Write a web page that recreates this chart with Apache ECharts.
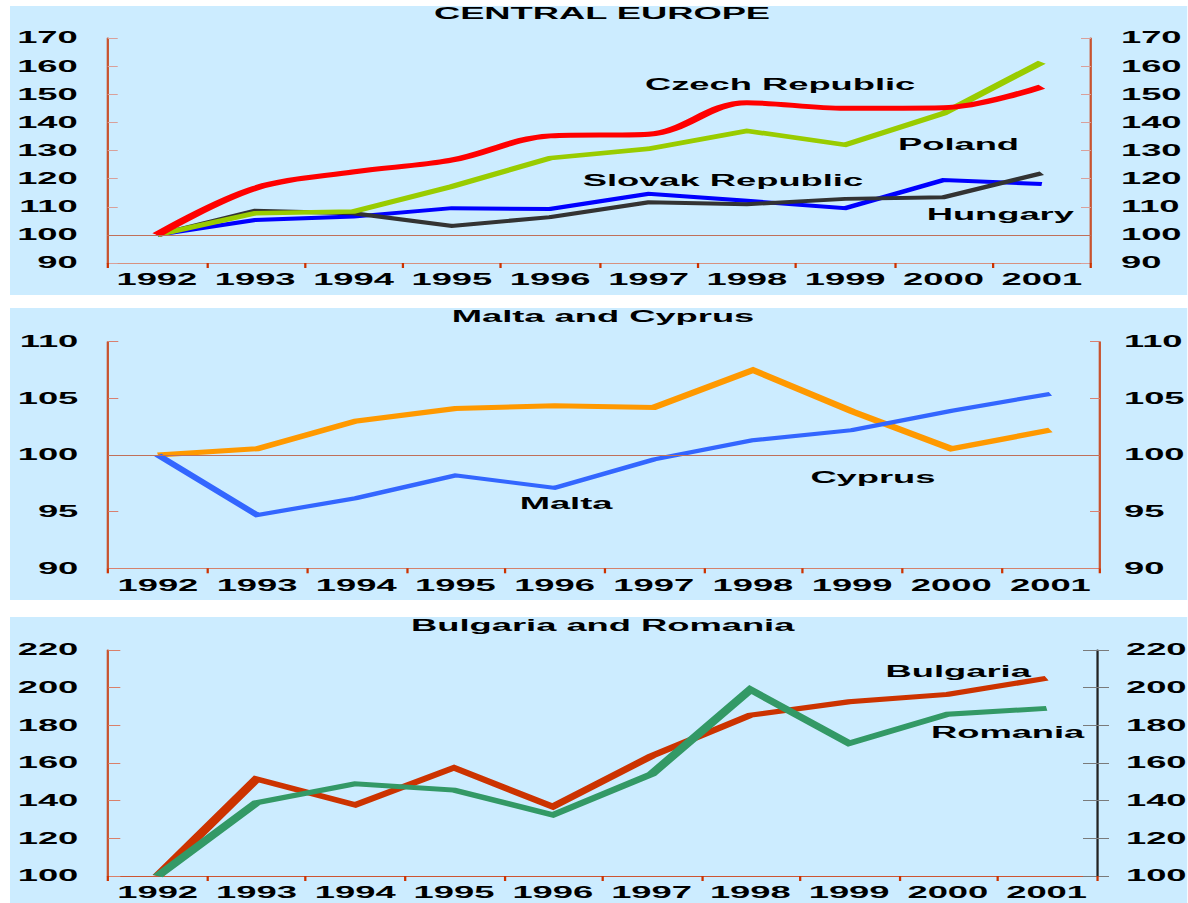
<!DOCTYPE html>
<html>
<head>
<meta charset="utf-8">
<title>Central Europe, Malta and Cyprus, Bulgaria and Romania (1992 = 100)</title>
<script src="https://cdn.jsdelivr.net/npm/echarts@6/dist/echarts.min.js"></script>
<style>
  html, body { margin: 0; padding: 0; background: #ffffff; overflow: hidden; }
  #chart { position: absolute; left: 0; top: 0; height: 903px; transform-origin: 0 0; }
</style>
</head>
<body>
<div id="chart"></div>
<script>
// ---- data (index, 1992 = 100) ----
const years = ['1992', '1993', '1994', '1995', '1996', '1997', '1998', '1999', '2000', '2001'];

const czech   = [100, 116.6, 122.4, 126.6, 135.2, 135.8, 147.0, 145.0, 145.2, 152.7];
const poland  = [100, 107.7, 108.3, 117.2, 127.3, 130.6, 137.0, 132.0, 143.2, 161.4];
const slovak  = [100, 105.3, 106.5, 109.5, 109.2, 114.6, 112.1, 109.5, 119.5, 118.1];
const hungary = [100, 108.6, 107.7, 103.2, 106.3, 111.6, 110.9, 112.8, 113.4, 121.9];

const malta   = [100, 94.7, 96.2, 98.2, 97.1, 99.6, 101.3, 102.2, 103.9, 105.4];
const cyprus  = [100, 100.55, 103.0, 104.1, 104.35, 104.2, 107.5, 103.85, 100.55, 102.2];

const bulgaria = [100, 151.5, 137.7, 157.5, 136.8, 163.7, 185.4, 192.5, 196.4, 205.0];
const romania  = [100, 138.9, 149.0, 145.6, 132.4, 154.1, 199.0, 170.4, 185.9, 189.0];

// value-axis ranges per panel: [min, max, step]
const rangeCentral = [90, 170, 10];
const rangeMalta   = [90, 110, 5];
const rangeBalkan  = [100, 220, 20];

// ---- layout ----
// The drawing is laid out on a narrow surface and widened horizontally,
// which gives the broad, extended lettering of the printed chart.
const SX = 2.27;
const PAGE_W = 1188;
const X = v => v / SX;

const el = document.getElementById('chart');
el.style.width = X(PAGE_W) + 'px';
el.style.transform = 'scaleX(' + SX + ')';

const FONT = '"Liberation Sans", Arial, Helvetica, sans-serif';
const BG = '#CCECFF';
const AXIS_BROWN = '#C8532F';
const TICK_RED = '#CC3300';
const TICK_PALE = '#D9A09A';

const labelStyle = { color: '#000', fontFamily: FONT, fontWeight: 'bold', fontSize: 16 };

function gridBox(left, right, top, bottom) {
  return {
    left: X(left), width: X(right - left), top: top, height: bottom - top,
    containLabel: false, outerBoundsMode: 'none', show: false
  };
}

function catAxis(gridIndex, lineColor) {
  return {
    type: 'category', gridIndex: gridIndex, data: years, boundaryGap: true,
    axisLine: { show: true, onZero: false, lineStyle: { color: lineColor, width: 1 } },
    axisTick: { show: true, length: 5, lineStyle: { color: TICK_RED, width: 1 } },
    axisLabel: Object.assign({ margin: 9, interval: 0 }, labelStyle),
    splitLine: { show: false }
  };
}

function valAxis(gridIndex, range, position, o) {
  o = o || {};
  return {
    type: 'value', gridIndex: gridIndex, position: position,
    min: range[0], max: range[1], interval: range[2],
    axisLine: { show: o.line !== false, onZero: false, lineStyle: { color: o.lineColor || AXIS_BROWN, width: 1 } },
    axisTick: { show: true, inside: o.inside !== false, length: o.tickLen || X(10),
                lineStyle: { color: o.tickColor || TICK_PALE, width: 1 } },
    axisLabel: Object.assign({ show: o.labels !== false, margin: X(o.margin || 30) }, labelStyle),
    splitLine: { show: false }
  };
}

function lineSeries(name, data, color, width, xi, yi, extra) {
  return Object.assign({
    name: name, type: 'line', data: data, xAxisIndex: xi, yAxisIndex: yi,
    showSymbol: false, symbol: 'none', silent: true, animation: false,
    lineStyle: { color: color, width: width, cap: 'butt', join: 'miter' },
    itemStyle: { color: color }
  }, extra || {});
}

function baseLine(value, color) {
  return {
    silent: true, symbol: ['none', 'none'], animation: false,
    label: { show: false },
    lineStyle: { color: color, width: 1, type: 'solid' },
    data: [{ yAxis: value }]
  };
}

function txt(text, x, y, align, size) {
  return {
    type: 'text', x: X(x), y: y, z: 50, silent: true,
    style: {
      text: text, fill: '#000',
      font: 'bold ' + (size || 16) + 'px ' + FONT,
      textAlign: align || 'left', align: align || 'left',
      textVerticalAlign: 'middle', verticalAlign: 'middle'
    }
  };
}

function panel(y, h) {
  return { type: 'rect', z: -10, silent: true,
           shape: { x: X(10), y: y, width: X(1178), height: h },
           style: { fill: BG } };
}

const option = {
  backgroundColor: '#ffffff',
  animation: false,
  grid: [
    gridBox(107.7, 1091, 38, 263),
    gridBox(108.3, 1100, 341.7, 568.3),
    gridBox(108.3, 1096, 650, 876)
  ],
  xAxis: [
    catAxis(0, '#D7917F'),
    catAxis(1, '#D4826C'),
    catAxis(2, '#CC5533')
  ],
  yAxis: [
    valAxis(0, rangeCentral, 'left'),
    valAxis(0, rangeCentral, 'right'),
    valAxis(1, rangeMalta, 'left', { tickColor: '#D98070' }),
    valAxis(1, rangeMalta, 'right', { tickColor: '#D98070', margin: 24 }),
    valAxis(2, rangeBalkan, 'left', { tickColor: '#D9806A', tickLen: X(12) }),
    valAxis(2, rangeBalkan, 'right', { lineColor: '#222222', tickColor: '#7A7A7A', inside: false, tickLen: X(13) }),
    valAxis(2, rangeBalkan, 'right', { line: false, labels: false, tickColor: '#7A7A7A', inside: true, tickLen: X(13) })
  ],
  series: [
    lineSeries('Slovak Republic', slovak, '#0000FF', 4, 0, 0, { markLine: baseLine(100, '#C0705A') }),
    lineSeries('Hungary', hungary, '#333333', 4, 0, 0),
    lineSeries('Poland', poland, '#99CC00', 4.5, 0, 0),
    lineSeries('Czech Republic', czech, '#FF0000', 5, 0, 0, { smooth: 0.35 }),

    lineSeries('Cyprus', cyprus, '#FF9900', 5, 1, 2, { markLine: baseLine(100, '#C0705A') }),
    lineSeries('Malta', malta, '#3366FF', 4, 1, 2),

    lineSeries('Bulgaria', bulgaria, '#CC3300', 5, 2, 4),
    lineSeries('Romania', romania, '#339966', 5, 2, 4)
  ],
  graphic: [
    panel(6, 289),
    panel(308, 292),
    panel(617, 286),

    txt('CENTRAL EUROPE', 602, 13.5, 'center'),
    txt('Malta and Cyprus', 603, 317, 'center'),
    txt('Bulgaria and Romania', 602.7, 626, 'center'),

    txt('Czech Republic', 645, 85),
    txt('Slovak Republic', 582.7, 181),
    txt('Poland', 898, 144.5),
    txt('Hungary', 926.7, 214.5),

    txt('Malta', 519.7, 503.5),
    txt('Cyprus', 810.4, 477.5),

    txt('Bulgaria', 885.6, 672),
    txt('Romania', 931, 733)
  ]
};

const chart = echarts.init(el, null, { renderer: 'svg' });
chart.setOption(option);
</script>
</body>
</html>
